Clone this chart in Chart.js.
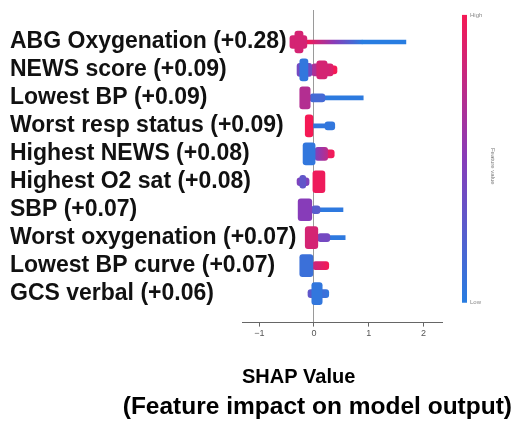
<!DOCTYPE html>
<html><head><meta charset="utf-8">
<script src="https://cdn.jsdelivr.net/npm/chart.js@4/dist/chart.umd.min.js"></script>
<style>html,body{margin:0;padding:0;background:#fff;}</style>
</head><body>
<canvas id="c" width="515" height="422"></canvas>
<script>
// Feature names (y axis, top to bottom)
const features = [
  'ABG Oxygenation (+0.28)', 'NEWS score (+0.09)', 'Lowest BP (+0.09)',
  'Worst resp status (+0.09)', 'Highest NEWS (+0.08)', 'Highest O2 sat (+0.08)',
  'SBP (+0.07)', 'Worst oxygenation (+0.07)', 'Lowest BP curve (+0.07)', 'GCS verbal (+0.06)'
];
const xTicks = [-1, 0, 1, 2];
const colorbarTicks = ['Low', 'High'];

// SHAP value ranges of the swarm, by point density (null = none); tones = feature value [start,end], 0 low .. 1 high
const denseRange = [[-0.35,-0.20],[-0.26,-0.11],[-0.26,-0.07],[-0.16,-0.02],[-0.20,0.02],[-0.02,0.20],[-0.29,-0.04],[-0.16,0.07],[-0.26,-0.02],[-0.04,0.15]];
const denseTone  = [[0.85,0.85],[0.05,0.05],[0.7,0.7],[1,1],[0.05,0.05],[0.97,0.97],[0.5,0.5],[0.85,0.85],[0.1,0.1],[0.05,0.05]];

const dense2Range = [null,[0.05,0.24],null,null,null,null,null,null,null,null];
const dense2Tone  = [null,[0.85,0.85],null,null,null,null,null,null,null,null];

const midRange = [[-0.44,-0.13],[-0.31,-0.04],null,null,[0.02,0.25],[-0.26,-0.15],null,null,null,null];
const midTone  = [[0.85,0.85],[0.4,0.4],null,null,[0.45,0.75],[0.3,0.3],null,null,null,null];

const mid2Range = [null,[-0.04,0.35],null,null,null,null,null,null,null,null];
const mid2Tone  = [null,[0.65,0.9],null,null,null,null,null,null,null,null];

const thinRange = [null,[0.24,0.42],[-0.07,0.20],[0.20,0.38],[0.15,0.37],[-0.31,-0.09],[-0.04,0.11],[0.07,0.29],[-0.02,0.27],[-0.11,0.27]];
const thinTone  = [null,[1,1],[0.15,0.15],[0.05,0.05],[0.85,1],[0.45,0.45],[0.25,0.25],[0.4,0.4],[0.8,1],[0.3,0.05]];

const tailRange = [[-0.13,0.88],null,[-0.07,0.90],[-0.02,0.29],null,null,[-0.04,0.53],[0.07,0.57],null,null];
const tailTone  = [[1,0],null,[0.02,0.02],[0.05,0.05],null,null,[0.03,0.03],[0.03,0.03],null,null];

const tail2Range = [[0.88,1.68],null,null,null,null,null,null,null,null,null];
const tail2Tone  = [[0,0],null,null,null,null,null,null,null,null,null];

// colour map low (blue) -> purple -> high (red)
function tone(t) {
  const lo = [40,125,225], md = [135,60,185], hi = [245,25,85];
  let a, b, f;
  if (t <= 0.5) { a = lo; b = md; f = t / 0.5; } else { a = md; b = hi; f = (t - 0.5) / 0.5; }
  return 'rgb(' + a.map((v, k) => Math.round(v + (b[k] - v) * f)).join(',') + ')';
}
function fillFor(tones) {
  return (ctx) => {
    if (ctx.type !== 'data' || !ctx.raw) return 'rgba(0,0,0,0)';
    const tn = tones[ctx.raw.y];
    if (!tn) return 'rgba(0,0,0,0)';
    if (tn[0] === tn[1]) return tone(tn[0]);
    const xs = ctx.chart.scales.x;
    if (!xs) return tone((tn[0] + tn[1]) / 2);
    const p0 = xs.getPixelForValue(ctx.raw.x[0]), p1 = xs.getPixelForValue(ctx.raw.x[1]);
    if (!isFinite(p0) || !isFinite(p1) || p0 === p1) return tone((tn[0] + tn[1]) / 2);
    const g = ctx.chart.ctx.createLinearGradient(p0, 0, p1, 0);
    g.addColorStop(0, tone(tn[0]));
    g.addColorStop(0.5, tone((tn[0] + tn[1]) / 2));
    g.addColorStop(1, tone(tn[1]));
    return g;
  };
}
function layer(name, ranges, tones, thick, radius) {
  return {
    label: name,
    data: ranges.map((r, i) => r ? {x: r, y: i} : null).filter(Boolean),
    backgroundColor: fillFor(tones),
    borderWidth: 0,
    borderSkipped: false,
    borderRadius: radius,
    barThickness: thick,
    maxBarThickness: thick,
    grouped: false
  };
}
function noPad(s) { s.paddingTop = 0; s.paddingBottom = 0; s.paddingLeft = 0; s.paddingRight = 0; }

const colorbar = {
  id: 'colorbar',
  afterDraw(chart) {
    const s = chart.scales.y2, c = chart.ctx;
    const top = s.getPixelForValue(1), bot = s.getPixelForValue(0);
    if (!isFinite(top) || !isFinite(bot)) return;
    const g = c.createLinearGradient(0, bot, 0, top);
    g.addColorStop(0, tone(0)); g.addColorStop(0.5, tone(0.5)); g.addColorStop(1, tone(1));
    c.save(); c.fillStyle = g; c.fillRect(s.left + 20, top, 5, bot - top); c.restore();
  }
};

Chart.defaults.font.family = '"Liberation Sans", Arial, sans-serif';

new Chart(document.getElementById('c'), {
  type: 'bar',
  data: {
    datasets: [
      layer('dense', denseRange, denseTone, 22, 3),
      layer('dense2', dense2Range, dense2Tone, 18, 3),
      layer('mid', midRange, midTone, 13, 3),
      layer('mid2', mid2Range, mid2Tone, 12, 3),
      layer('thin', thinRange, thinTone, 8, 3),
      layer('tail', tailRange, tailTone, 4, 0),
      layer('tail2', tail2Range, tail2Tone, 4, 0)
    ]
  },
  options: {
    indexAxis: 'y',
    responsive: false,
    animation: false,
    layout: { padding: { left: 10, right: 3, top: 10, bottom: 0 } },
    plugins: {
      legend: { display: false },
      tooltip: { enabled: false },
      title: { display: false },
      subtitle: {
        display: true, position: 'bottom', align: 'end',
        text: '(Feature impact on model output)',
        color: '#000', font: { size: 24.5, weight: 'bold' },
        padding: { top: 3, bottom: 0 }
      }
    },
    scales: {
      x: {
        type: 'linear', min: -1.316, max: 2.34, offset: false,
        afterBuildTicks: s => { s.ticks = xTicks.map(v => ({ value: v })); },
        afterFit: s => { s.height = 67; noPad(s); },
        ticks: {
          color: '#555', font: { size: 9 }, padding: 2,
          callback: v => (v < 0 ? '\u2212' + Math.abs(v) : String(v))
        },
        grid: {
          drawOnChartArea: true, drawTicks: true, tickLength: 4, tickColor: '#666',
          color: c => (c.tick && c.tick.value === 0 ? '#9a9a9a' : 'rgba(0,0,0,0)')
        },
        border: { display: true, color: '#666', width: 1 },
        title: {
          display: true, text: 'SHAP Value', align: 'start',
          color: '#000', font: { size: 20, weight: 'bold' }, padding: { top: 0, bottom: 0 }
        }
      },
      y: {
        type: 'linear', reverse: true, min: -1.143, max: 10.036, offset: false,
        afterBuildTicks: s => { s.ticks = features.map((f, i) => ({ value: i })); },
        afterFit: s => { s.width = 232; noPad(s); },
        ticks: {
          mirror: true, crossAlign: 'near', padding: -232, autoSkip: false, color: '#111',
          font: { size: 23, weight: 'bold' },
          callback: v => features[v]
        },
        grid: { display: false, drawTicks: false },
        border: { display: false }
      },
      y2: {
        type: 'linear', position: 'right', min: -0.069, max: 1.017, offset: false,
        afterBuildTicks: s => { s.ticks = [{ value: 0 }, { value: 1 }]; },
        afterFit: s => { s.width = 70; noPad(s); },
        ticks: {
          color: '#888', font: { size: 6 }, padding: 28, autoSkip: false,
          callback: v => colorbarTicks[v]
        },
        grid: { display: false, drawTicks: false },
        border: { display: false },
        title: {
          display: true, text: 'Feature value', color: '#777',
          font: { size: 6 }, padding: { top: 16, bottom: 0 }
        }
      }
    }
  },
  plugins: [colorbar]
});
</script>
</body></html>
